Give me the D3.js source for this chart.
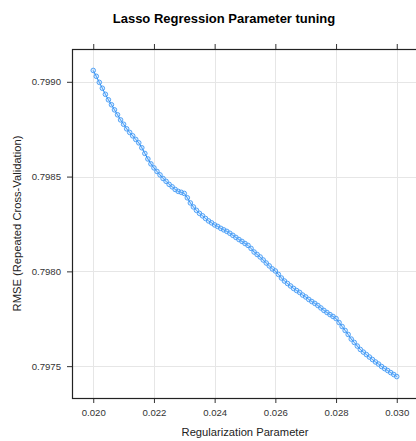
<!DOCTYPE html>
<html><head><meta charset="utf-8">
<script src="https://cdn.jsdelivr.net/npm/d3@7"></script>
<style>body{margin:0;background:#fff}svg{display:block}</style>
</head><body>
<script>
const lambda = [0.0200,0.0201,0.0202,0.0203,0.0204,0.0205,0.0206,0.0207,0.0208,0.0209,
0.0210,0.0211,0.0212,0.0213,0.0214,0.0215,0.0216,0.0217,0.0218,0.0219,
0.0220,0.0221,0.0222,0.0223,0.0224,0.0225,0.0226,0.0227,0.0228,0.0229,
0.0230,0.0231,0.0232,0.0233,0.0234,0.0235,0.0236,0.0237,0.0238,0.0239,
0.0240,0.0241,0.0242,0.0243,0.0244,0.0245,0.0246,0.0247,0.0248,0.0249,
0.0250,0.0251,0.0252,0.0253,0.0254,0.0255,0.0256,0.0257,0.0258,0.0259,
0.0260,0.0261,0.0262,0.0263,0.0264,0.0265,0.0266,0.0267,0.0268,0.0269,
0.0270,0.0271,0.0272,0.0273,0.0274,0.0275,0.0276,0.0277,0.0278,0.0279,
0.0280,0.0281,0.0282,0.0283,0.0284,0.0285,0.0286,0.0287,0.0288,0.0289,
0.0290,0.0291,0.0292,0.0293,0.0294,0.0295,0.0296,0.0297,0.0298,0.0299,0.0300];
const rmse = [0.799060,0.799029,0.798997,0.798966,0.798934,0.798905,0.798879,0.798852,0.798826,0.798799,
0.798776,0.798752,0.798733,0.798715,0.798696,0.798678,0.798652,0.798622,0.798593,0.798567,
0.798546,0.798527,0.798509,0.798490,0.798475,0.798459,0.798446,0.798432,0.798422,0.798417,
0.798411,0.798388,0.798361,0.798340,0.798322,0.798306,0.798293,0.798279,0.798266,0.798256,
0.798245,0.798237,0.798227,0.798219,0.798211,0.798201,0.798190,0.798179,0.798168,0.798158,
0.798147,0.798137,0.798121,0.798102,0.798089,0.798076,0.798060,0.798044,0.798029,0.798013,
0.798002,0.797984,0.797965,0.797949,0.797936,0.797923,0.797910,0.797899,0.797889,0.797875,
0.797865,0.797852,0.797841,0.797831,0.797820,0.797807,0.797794,0.797783,0.797772,0.797762,
0.797751,0.797730,0.797709,0.797688,0.797667,0.797643,0.797625,0.797606,0.797588,0.797574,
0.797561,0.797548,0.797535,0.797522,0.797511,0.797498,0.797487,0.797477,0.797466,0.797456,0.797445];
const xTicks = [0.020,0.022,0.024,0.026,0.028,0.030];
const yTicks = [0.7975,0.7980,0.7985,0.7990];
const title = "Lasso Regression Parameter tuning";
const xLabel = "Regularization Parameter";
const yLabel = "RMSE (Repeated Cross-Validation)";

const W = 416, H = 441;
const box = {l:72, t:49, r:418, b:398};
const pad = 0.07;
const xe = d3.extent(lambda), ye = d3.extent(rmse);
const xs = d3.scaleLinear().domain([xe[0]-pad*(xe[1]-xe[0]), xe[1]+pad*(xe[1]-xe[0])]).range([box.l, box.r]);
const ys = d3.scaleLinear().domain([ye[0]-pad*(ye[1]-ye[0]), ye[1]+pad*(ye[1]-ye[0])]).range([box.b, box.t]);

const svg = d3.select("body").append("svg").attr("width", W).attr("height", H)
  .style("font-family", "Arial, 'Liberation Sans', sans-serif");

// grid
const g = svg.append("g");
g.selectAll("line.vx").data(xTicks).join("line")
  .attr("x1", d => Math.round(xs(d))+0.5).attr("x2", d => Math.round(xs(d))+0.5)
  .attr("y1", box.t).attr("y2", box.b).attr("stroke", "#e6e6e6").attr("stroke-width", 1);
g.selectAll("line.hy").data(yTicks).join("line")
  .attr("y1", d => Math.round(ys(d))+0.5).attr("y2", d => Math.round(ys(d))+0.5)
  .attr("x1", box.l).attr("x2", box.r).attr("stroke", "#e6e6e6").attr("stroke-width", 1);

// axes
const fmtX = d3.format(".3f"), fmtY = d3.format(".4f");
const axB = svg.append("g").attr("transform", `translate(0,${box.b})`)
  .call(d3.axisBottom(xs).tickValues(xTicks).tickFormat(fmtX).tickSize(5).tickPadding(6));
const axT = svg.append("g").attr("transform", `translate(0,${box.t})`)
  .call(d3.axisTop(xs).tickValues(xTicks).tickFormat("").tickSize(5));
const axL = svg.append("g").attr("transform", `translate(${box.l},0)`)
  .call(d3.axisLeft(ys).tickValues(yTicks).tickFormat(fmtY).tickSize(5).tickPadding(6));
[axB, axT, axL].forEach(a => {
  a.select(".domain").remove();
  a.selectAll(".tick line").attr("stroke", "#333");
  a.selectAll(".tick text").attr("fill", "#333").style("font-size", "9.6px").style("font-family", "Arial, 'Liberation Sans', sans-serif");
});

// box
svg.append("rect").attr("x", box.l+0.5).attr("y", box.t+0.5)
  .attr("width", box.r-box.l).attr("height", box.b-box.t)
  .attr("fill", "none").attr("stroke", "#222").attr("stroke-width", 1.2);

// line + points
const pts = lambda.map((x,i) => [x, rmse[i]]);
svg.append("path").datum(pts)
  .attr("d", d3.line().x(d => xs(d[0])).y(d => ys(d[1])))
  .attr("fill", "none").attr("stroke", "#0a7cf0").attr("stroke-width", 1);
svg.append("g").selectAll("circle").data(pts).join("circle")
  .attr("cx", d => xs(d[0])).attr("cy", d => ys(d[1])).attr("r", 2.3)
  .attr("fill", "#9ccbff").attr("fill-opacity", 0.35)
  .attr("stroke", "#3d96f5").attr("stroke-opacity", 0.85).attr("stroke-width", 1);

// texts
svg.append("text").attr("x", 224).attr("y", 23).attr("text-anchor", "middle")
  .style("font-size", "13px").style("font-weight", "bold").attr("fill", "#000").text(title);
svg.append("text").attr("x", (box.l+box.r)/2 + 0).attr("y", 436).attr("text-anchor", "middle")
  .style("font-size", "11.2px").attr("fill", "#222").text(xLabel);
svg.append("text").attr("transform", `translate(21,${(box.t+box.b)/2}) rotate(-90)`)
  .attr("text-anchor", "middle").style("font-size", "11.2px").attr("fill", "#222").text(yLabel);
</script>
</body></html>
